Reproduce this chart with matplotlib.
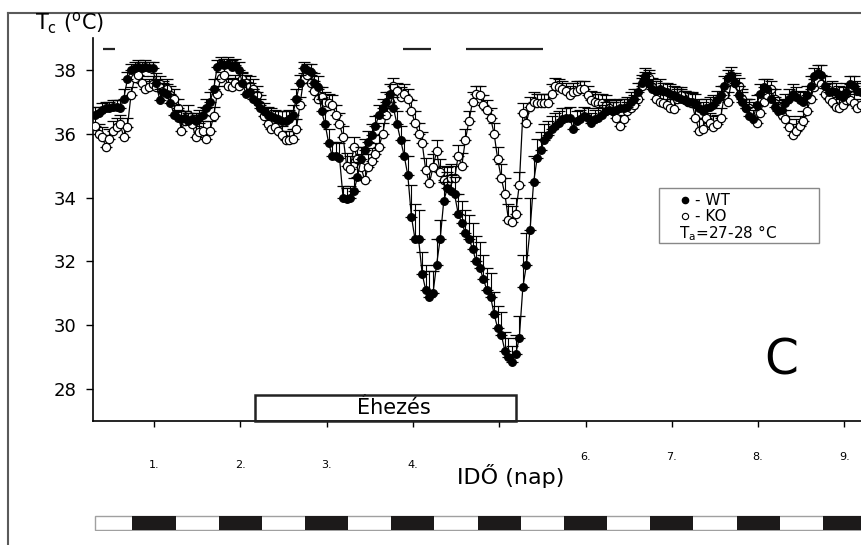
import numpy as np
import matplotlib
matplotlib.use('Agg')
import matplotlib.pyplot as plt
from matplotlib.patches import Rectangle
from matplotlib.lines import Line2D
import matplotlib.transforms as mtransforms

plt.rcParams['font.family'] = 'DejaVu Sans'
plt.rcParams['mathtext.fontset'] = 'dejavusans'

# hourly core temperature, first sample at day 0.316
t0 = 0.316

wt = [36.6, 36.65, 36.75, 36.8, 36.8, 36.85, 36.85, 36.8, 37.1, 37.7, 38.0, 38.05, 38.1, 38.05, 38.1, 38.05, 38.05, 37.6, 37.05, 37.3, 37.25, 36.95, 36.6, 36.5,
      36.45, 36.5, 36.4, 36.45, 36.4, 36.5, 36.6, 36.8, 37.0, 37.4, 38.1, 38.2, 38.15, 38.2, 38.1, 38.15, 38.0, 37.6, 37.25, 37.3, 37.1, 37.0, 36.8, 36.7,
      36.6, 36.55, 36.5, 36.45, 36.4, 36.4, 36.45, 36.6, 37.1, 37.6, 38.05, 38.0, 37.95, 37.6, 37.45, 36.7, 36.3, 35.7, 35.3, 35.3, 35.25, 34.0, 33.95, 34.0,
      34.2, 34.65, 35.2, 35.5, 35.75, 35.95, 36.25, 36.6, 36.8, 37.0, 37.25, 36.8, 36.3, 35.8, 35.3, 34.7, 33.4, 32.7, 32.7, 31.6, 31.1, 30.9, 31.0, 31.9,
      32.7, 33.9, 34.3, 34.2, 34.1, 33.5, 33.2, 32.9, 32.7, 32.4, 32.0, 31.8, 31.45, 31.1, 30.9, 30.35, 29.9, 29.7, 29.2, 29.0, 28.85, 29.1, 29.6, 31.2,
      31.9, 33.0, 34.5, 35.25, 35.5, 35.8, 35.95, 36.15, 36.25, 36.35, 36.45, 36.5, 36.5, 36.15, 36.4, 36.45, 36.55, 36.5, 36.35, 36.45, 36.5, 36.6, 36.7, 36.75,
      36.7, 36.75, 36.8, 36.8, 36.85, 37.0, 37.1, 37.3, 37.6, 37.8, 37.6, 37.4, 37.35, 37.4, 37.35, 37.3, 37.25, 37.2, 37.15, 37.1, 37.05, 37.0, 37.0, 36.95,
      36.8, 36.7, 36.8, 36.85, 36.9, 37.05, 37.2, 37.5, 37.75, 37.85, 37.6, 37.2, 37.0, 36.8, 36.55, 36.45, 36.9, 37.25, 37.45, 37.4, 37.1, 36.85, 36.7, 36.75,
      36.95, 37.1, 37.25, 37.15, 37.05, 37.0, 37.2, 37.5, 37.8, 37.9, 37.85, 37.5, 37.3, 37.35, 37.3, 37.2, 37.15, 37.3, 37.55, 37.5, 37.35, 37.3]

ko = [36.25, 36.0, 35.9, 35.6, 35.85, 36.1, 36.2, 36.3, 35.9, 36.2, 37.2, 37.75, 37.85, 37.6, 37.4, 37.45, 37.55, 37.45, 37.55, 37.35, 37.4, 37.2, 37.1, 36.8,
      36.1, 36.4, 36.6, 36.3, 35.9, 36.05, 36.1, 35.85, 36.1, 36.55, 37.25, 37.75, 37.85, 37.5, 37.45, 37.6, 37.5, 37.7, 37.6, 37.5, 37.4, 37.2, 36.9, 36.55,
      36.3, 36.15, 36.2, 36.1, 35.95, 35.8, 35.8, 35.85, 36.15, 36.9, 37.7, 37.85, 37.6, 37.35, 37.1, 37.15, 37.0, 36.95, 36.9, 36.6, 36.3, 35.9, 35.0, 34.9,
      35.6, 35.2, 34.95, 34.55, 34.95, 35.15, 35.35, 35.6, 36.0, 36.6, 37.0, 37.5, 37.35, 37.15, 37.25, 37.1, 36.7, 36.35, 36.0, 35.7, 34.85, 34.45, 34.95, 35.45,
      34.8, 34.55, 34.5, 34.6, 34.6, 35.3, 35.0, 35.8, 36.4, 37.0, 37.25, 37.2, 36.9, 36.75, 36.5, 36.0, 35.2, 34.6, 34.1, 33.3, 33.25, 33.5, 34.4, 36.65,
      36.35, 36.85, 37.0, 36.95, 36.95, 36.95, 36.95, 37.25, 37.5, 37.45, 37.4, 37.35, 37.2, 37.3, 37.35, 37.4, 37.4, 37.2, 37.05, 37.0, 36.95, 36.95, 36.9, 36.8,
      36.7, 36.5, 36.25, 36.45, 36.7, 36.8, 36.9, 37.1, 37.5, 37.7, 37.75, 37.45, 37.1, 37.0, 36.95, 36.9, 36.8, 36.78, 37.1, 37.2, 37.05, 37.0, 36.97, 36.5,
      36.1, 36.15, 36.5, 36.35, 36.2, 36.3, 36.5, 37.2, 37.0, 37.65, 37.6, 37.5, 37.1, 36.8, 36.8, 36.7, 36.35, 36.65, 37.0, 37.2, 37.4, 37.1, 36.8, 36.6,
      36.45, 36.2, 35.97, 36.1, 36.25, 36.4, 36.7, 37.1, 37.45, 37.65, 37.55, 37.25, 37.1, 37.0, 36.85, 36.8, 36.9, 37.05, 37.05, 36.95, 36.8, 36.9]

# upper SEM
wt_err = [0.25, 0.2, 0.2, 0.2, 0.2, 0.2, 0.2, 0.25, 0.3, 0.25, 0.2, 0.2, 0.2, 0.2, 0.2, 0.2, 0.2, 0.3, 0.35, 0.3, 0.3, 0.3, 0.3, 0.25,
          0.25, 0.2, 0.25, 0.2, 0.25, 0.25, 0.25, 0.3, 0.3, 0.3, 0.2, 0.2, 0.2, 0.2, 0.2, 0.2, 0.25, 0.3, 0.35, 0.3, 0.3, 0.3, 0.3, 0.25,
          0.25, 0.25, 0.25, 0.25, 0.3, 0.3, 0.3, 0.3, 0.3, 0.25, 0.2, 0.2, 0.25, 0.3, 0.35, 0.4, 0.45, 0.45, 0.45, 0.45, 0.45, 0.35, 0.35, 0.35,
          0.4, 0.45, 0.4, 0.35, 0.35, 0.35, 0.3, 0.3, 0.3, 0.3, 0.3, 0.35, 0.4, 0.45, 0.5, 0.6, 1.0, 1.1, 0.9, 0.7, 0.8, 0.8, 0.7, 0.8,
          0.6, 0.6, 0.5, 0.5, 0.55, 0.6, 0.7, 0.7, 0.75, 0.8, 0.8, 0.8, 0.75, 0.7, 0.75, 0.7, 0.7, 0.7, 0.6, 0.6, 0.5, 0.6, 0.7, 1.0,
          1.0, 1.0, 0.8, 0.6, 0.55, 0.5, 0.45, 0.4, 0.4, 0.35, 0.35, 0.3, 0.35, 0.35, 0.3, 0.3, 0.3, 0.3, 0.3, 0.3, 0.3, 0.3, 0.3, 0.3,
          0.3, 0.3, 0.3, 0.3, 0.3, 0.3, 0.3, 0.3, 0.25, 0.25, 0.3, 0.3, 0.3, 0.3, 0.25, 0.3, 0.3, 0.3, 0.3, 0.3, 0.3, 0.3, 0.3, 0.3,
          0.3, 0.3, 0.3, 0.3, 0.3, 0.3, 0.3, 0.3, 0.25, 0.25, 0.3, 0.3, 0.3, 0.3, 0.3, 0.3, 0.3, 0.3, 0.25, 0.3, 0.3, 0.3, 0.3, 0.3,
          0.3, 0.3, 0.3, 0.3, 0.3, 0.3, 0.3, 0.3, 0.25, 0.25, 0.3, 0.3, 0.3, 0.3, 0.3, 0.3, 0.3, 0.3, 0.25, 0.3, 0.3, 0.3]

ko_err = [0.3, 0.3, 0.3, 0.35, 0.3, 0.3, 0.3, 0.3, 0.3, 0.3, 0.25, 0.2, 0.2, 0.2, 0.25, 0.25, 0.25, 0.25, 0.25, 0.3, 0.3, 0.3, 0.3, 0.3,
          0.35, 0.3, 0.3, 0.3, 0.35, 0.3, 0.3, 0.3, 0.3, 0.3, 0.25, 0.2, 0.2, 0.25, 0.25, 0.25, 0.25, 0.25, 0.25, 0.3, 0.3, 0.3, 0.3, 0.3,
          0.3, 0.3, 0.3, 0.3, 0.3, 0.3, 0.3, 0.3, 0.3, 0.25, 0.2, 0.2, 0.25, 0.3, 0.3, 0.3, 0.3, 0.3, 0.3, 0.3, 0.35, 0.35, 0.4, 0.4,
          0.3, 0.4, 0.4, 0.45, 0.4, 0.4, 0.35, 0.35, 0.35, 0.3, 0.3, 0.25, 0.25, 0.3, 0.3, 0.3, 0.35, 0.35, 0.35, 0.35, 0.4, 0.45, 0.4, 0.35,
          0.4, 0.45, 0.45, 0.45, 0.4, 0.35, 0.4, 0.35, 0.3, 0.3, 0.25, 0.3, 0.3, 0.3, 0.3, 0.35, 0.4, 0.45, 0.5, 0.5, 0.5, 0.5, 0.4, 0.3,
          0.35, 0.3, 0.3, 0.3, 0.3, 0.3, 0.3, 0.3, 0.25, 0.25, 0.25, 0.25, 0.3, 0.3, 0.3, 0.25, 0.25, 0.3, 0.3, 0.3, 0.3, 0.3, 0.3, 0.3,
          0.3, 0.3, 0.35, 0.3, 0.3, 0.3, 0.3, 0.3, 0.25, 0.25, 0.25, 0.3, 0.3, 0.3, 0.3, 0.3, 0.3, 0.3, 0.3, 0.25, 0.3, 0.3, 0.3, 0.35,
          0.35, 0.35, 0.3, 0.3, 0.35, 0.3, 0.3, 0.3, 0.3, 0.25, 0.25, 0.25, 0.3, 0.3, 0.3, 0.3, 0.35, 0.3, 0.3, 0.3, 0.25, 0.3, 0.3, 0.3,
          0.3, 0.35, 0.35, 0.35, 0.3, 0.3, 0.3, 0.3, 0.25, 0.25, 0.25, 0.3, 0.3, 0.3, 0.3, 0.3, 0.3, 0.3, 0.3, 0.3, 0.3, 0.3]

day_ticks = [1, 2, 3, 4, 5, 6, 7, 8, 9]
day_labels = ['1.', '2.', '3.', '4.', '6.', '7.', '8.', '9.']
day_label_x = [1, 2, 3, 4, 6, 7, 8, 9]
y_ticks = [28, 30, 32, 34, 36, 38]

# bars above the curves
top_bar_start = [0.41, 3.885, 4.615]
top_bar_end = [0.55, 4.21, 5.51]
# fasting period
fast_start, fast_end = 2.17, 5.19
# dark phases
dark_start = [0.75, 1.75, 2.75, 3.75, 4.75, 5.75, 6.75, 7.75, 8.75]

t = t0 + np.arange(len(wt)) / 24.0

fig = plt.figure(figsize=(8.62, 5.45), dpi=100)
W, H = 862.0, 545.0
ax = fig.add_axes([93 / W, 1 - 421 / H, (W - 93) / W, (421 - 38) / H])

ax.errorbar(t, ko, yerr=[np.zeros(len(ko)), ko_err], fmt='-o', color='black',
            mfc='white', mec='black', ms=6, mew=0.9, lw=0.9, elinewidth=0.8,
            capsize=4, capthick=0.8, ecolor='black', zorder=3)
ax.errorbar(t, wt, yerr=[np.zeros(len(wt)), wt_err], fmt='-o', color='black',
            mfc='black', mec='black', ms=5.5, mew=0.9, lw=0.9, elinewidth=0.8,
            capsize=4, capthick=0.8, ecolor='black', zorder=4)

ax.set_xlim(0.293, 9.204)
ax.set_ylim(27, 39)
ax.spines['top'].set_visible(False)
ax.spines['right'].set_visible(False)
ax.spines['left'].set_linewidth(1.2)
ax.spines['bottom'].set_linewidth(1.2)
ax.set_yticks(y_ticks)
ax.set_xticks(day_ticks)
ax.set_xticklabels([])
ax.tick_params(axis='y', labelsize=13, length=5, width=1, pad=7)
ax.tick_params(axis='x', length=4, width=1)

ax.hlines([38.66] * len(top_bar_start), top_bar_start, top_bar_end,
          colors='#222222', lw=1.6)

ax.add_patch(Rectangle((fast_start, 27), fast_end - fast_start, 0.8,
                       fill=False, ec='#222222', lw=1.8, clip_on=False, zorder=5))
ax.text(3.78, 27.4, 'Éhezés', fontsize=15, ha='center', va='center')

ax.text(8.27, 28.9, 'C', fontsize=35, ha='center', va='center')

trans = mtransforms.blended_transform_factory(ax.transData, ax.transAxes)
for x, lab in zip(day_label_x, day_labels):
    yy = -0.115 if x < 5 else -0.094
    ax.text(x, yy, lab, fontsize=8, ha='center', va='center', transform=trans)

fig.text(511 / W, 1 - 476 / H, 'IDŐ (nap)', fontsize=16, ha='center', va='center')
fig.text(35 / W, 1 - 30 / H, r'T$_{\rm c}$ ($^{\rm o}$C)', fontsize=15,
         ha='left', va='baseline')

# legend box
fig.add_artist(Rectangle((659 / W, 1 - 243 / H), 160 / W, 55 / H,
                         transform=fig.transFigure, fill=False, ec='#888888', lw=1))
fig.add_artist(Line2D([685 / W], [1 - 200 / H], marker='o', ms=4.5, color='black',
                      transform=fig.transFigure))
fig.add_artist(Line2D([685 / W], [1 - 216 / H], marker='o', ms=4.5, mfc='white',
                      mec='black', mew=0.8, transform=fig.transFigure))
fig.text(695 / W, 1 - 205 / H, '- WT', fontsize=11, ha='left', va='baseline')
fig.text(695 / W, 1 - 221 / H, '- KO', fontsize=11, ha='left', va='baseline')
fig.text(679 / W, 1 - 238 / H, r'T$_{\rm a}$=27-28 °C', fontsize=11, ha='left', va='baseline')

# light/dark bar
bax = fig.add_axes([93 / W, 1 - 531 / H, (W - 93) / W, 16 / H], sharex=ax)
bax.add_patch(Rectangle((t0, 0), 10, 1, fc='white', ec='#a0a0a0', lw=1))
bax.broken_barh([(s, 0.5) for s in dark_start], (0, 1), facecolors='#1c1a1a')
bax.set_ylim(-0.05, 1.05)
bax.axis('off')

# outer frame
fig.add_artist(Line2D([8 / W, 8 / W], [0, 1 - 13 / H], color='#5a5a5a', lw=1.5,
                      transform=fig.transFigure))
fig.add_artist(Line2D([8 / W, 1], [1 - 13 / H, 1 - 13 / H], color='#5a5a5a', lw=1.5,
                      transform=fig.transFigure))

fig.savefig('out.png', dpi=100)
